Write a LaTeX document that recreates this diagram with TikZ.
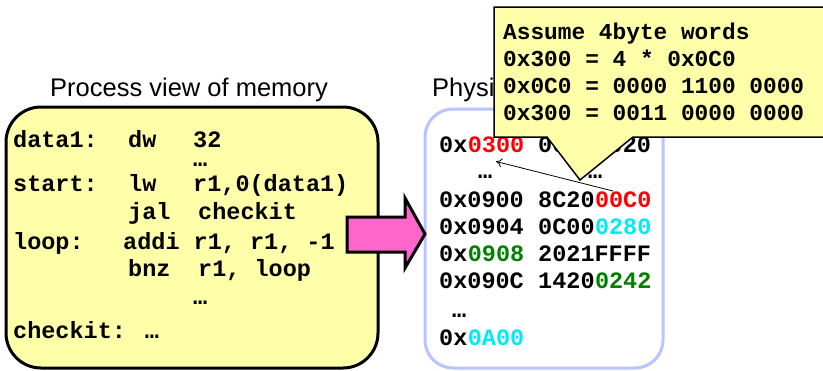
\documentclass[tikz,border=0pt]{standalone}
\usepackage{fontspec}
\newfontfamily\arialf{Liberation Sans}
\newfontfamily\codefont{Liberation Mono}
\usetikzlibrary{arrows.meta}
\definecolor{memyellow}{RGB}{255,255,170}
\definecolor{memblue}{RGB}{184,196,255}
\definecolor{mempink}{RGB}{255,102,204}
\definecolor{memcyan}{RGB}{0,235,245}
\definecolor{memgreen}{RGB}{0,128,0}
\definecolor{memred}{RGB}{255,0,0}
\begin{document}
\begin{tikzpicture}[x=1pt,y=-1pt,
 code/.style={anchor=base west,inner sep=0pt,font=\fontsize{23.5}{28}\selectfont\codefont\bfseries},
 dots/.style={code,text height=4pt,text depth=0pt},
 note/.style={anchor=base west,inner sep=0pt,font=\fontsize{22.8}{27}\selectfont\codefont\bfseries},
 titletext/.style={anchor=base west,inner sep=0pt,font=\fontsize{25.5}{30}\selectfont\arialf},
 procbox/.style={line width=3pt,fill=memyellow,rounded corners=35pt},
 physbox/.style={line width=3pt,draw=memblue,fill=white,rounded corners=28pt},
 bigarrow/.style={line width=3pt,fill=mempink,line join=miter},
 callout/.style={line width=1.5pt,fill=memyellow,line join=miter}]
\useasboundingbox (0,0) rectangle (823,370);

% titles
\node[titletext] (t1) at (50,96) {Process view of memory};
\node[titletext] (t2) at (432,96) {Physi};

% process box
\draw[procbox] (6,107) rectangle (378,368);
\node[code] (l1a) at (13,147) {data1:};
\node[code] (l1b) at (128,147) {dw};
\node[code] (l1c) at (193,147) {32};
\node[dots] (l2c) at (193,166) {…};
\node[code] (l3a) at (13,191) {start:};
\node[code] (l3b) at (128,191) {lw};
\node[code] (l3c) at (193,191) {r1,0(data1)};
\node[code] (l4b) at (128,219) {jal};
\node[code] (l4c) at (198,219) {checkit};
\node[code] (l5a) at (13,249) {loop:};
\node[code] (l5b) at (123,249) {addi r1, r1, -1};
\node[code] (l6b) at (128,276) {bnz};
\node[code] (l6c) at (198,276) {r1, loop};
\node[dots] (l7b) at (193,304) {…};
\node[code] (l8a) at (13,338) {checkit: …};

% physical box
\draw[physbox] (425,109) rectangle (663,368);
\node[code] (p1x) at (439,152) {0x};
\node[code,text=memred] (p1a) at (p1x.base east) {0300};
\node[code] (p1b) at (538,152) {00000020};
\node[dots] (p2a) at (478,178) {…};
\node[dots] (p2b) at (588,178) {…};
\node[code] (p3a) at (439,207) {0x0900};
\node[code] (p3b) at (538,207) {8C20};
\node[code,text=memred] (p3c) at (p3b.base east) {00C0};
\node[code] (p4a) at (439,234) {0x0904};
\node[code] (p4b) at (538,234) {0C00};
\node[code,text=memcyan] (p4c) at (p4b.base east) {0280};
\node[code] (p5x) at (439,261) {0x};
\node[code,text=memgreen] (p5a) at (p5x.base east) {0908};
\node[code] (p5b) at (538,261) {2021FFFF};
\node[code] (p6a) at (439,288) {0x090C};
\node[code] (p6b) at (538,288) {1420};
\node[code,text=memgreen] (p6c) at (p6b.base east) {0242};
\node[dots] (p7a) at (452,317) {…};
\node[code] (p8x) at (439,345) {0x};
\node[code,text=memcyan] (p8a) at (p8x.base east) {0A00};

\draw[-{To[length=6pt,width=9pt]},line width=0.8pt] ([xshift=-10pt]p3c.north) -- ([yshift=-9pt]p1a.south);

% big arrow
\draw[bigarrow] (347,217) -- (405,217) -- (405,198) -- (425,234) -- (405,268) -- (405,252) -- (347,252) -- cycle;

% callout
\draw[callout] (494,7) -- (826,7) -- (826,137) -- (633,137) -- (580,180) -- (547,137) -- (494,137) -- cycle;
\node[note] (n1) at (503,39) {Assume 4byte words};
\node[note] (n2) at (503,66) {0x300 = 4 * 0x0C0};
\node[note] (n3) at (503,93) {0x0C0 = 0000 1100 0000};
\node[note] (n4) at (503,120) {0x300 = 0011 0000 0000};
\end{tikzpicture}
\end{document}
